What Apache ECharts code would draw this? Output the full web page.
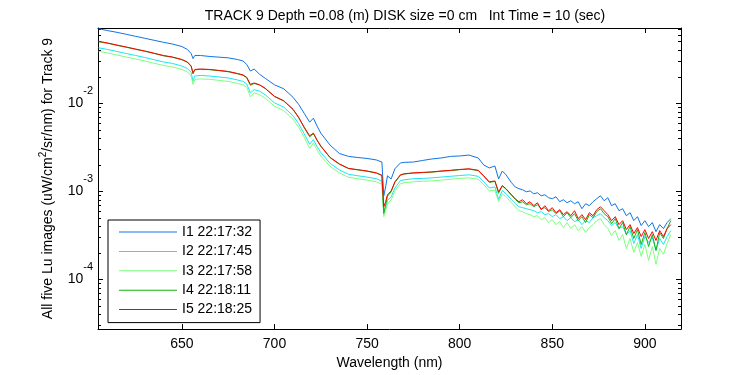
<!DOCTYPE html>
<html>
<head>
<meta charset="utf-8">
<script src="https://cdn.jsdelivr.net/npm/echarts@6/dist/echarts.min.js"></script>
<style>html,body{margin:0;background:#fff}#chart{width:750px;height:375px}</style>
</head>
<body>
<div id="chart"></div>
<script>
// wavelength (nm)
var wavelength = [605,610,615,620,625,630,635,640,645,650,653,655,656,657,660,665,670,675,680,683,
  685,687,689,692,695,700,705,710,713,716,719,721,723,725,730,735,740,745,750,755,
  758,759,760,761,763,765,768,770,775,780,785,790,795,800,805,810,813,816,819,821,
  823,825,828,830,
  832,834,836,838,840,842,844,846,848,850,852,854,856,858,860,862,864,866,868,870,
  872,874,876,878,880,882,884,886,888,890,892,894,896,898,900,902,904,906,908,910,912,914];

var lu_i1 = [7.04e-2,6.68e-2,6.39e-2,6.07e-2,5.76e-2,5.47e-2,5.19e-2,4.93e-2,4.70e-2,4.41e-2,
  4.08e-2,3.67e-2,3.22e-2,3.49e-2,3.49e-2,3.40e-2,3.34e-2,3.28e-2,3.14e-2,3.02e-2,
  2.76e-2,2.32e-2,2.45e-2,2.13e-2,1.92e-2,1.62e-2,1.46e-2,1.17e-2,9.74e-3,7.71e-3,
  6.10e-3,6.77e-3,5.50e-3,4.58e-3,3.35e-3,2.69e-3,2.49e-3,2.42e-3,2.36e-3,2.27e-3,
  2.15e-3,8.89e-4,1.12e-3,1.50e-3,1.38e-3,1.80e-3,2.10e-3,2.13e-3,2.15e-3,2.24e-3,
  2.33e-3,2.39e-3,2.49e-3,2.52e-3,2.58e-3,2.39e-3,1.99e-3,1.84e-3,1.94e-3,1.38e-3,
  1.70e-3,1.54e-3,1.25e-3,1.12e-3,
  1.07e-3,1.04e-3,9.87e-4,1.01e-3,9.37e-4,9.62e-4,8.89e-4,9.13e-4,8.45e-4,8.23e-4,
  8.67e-4,7.61e-4,8.02e-4,7.41e-4,7.81e-4,7.22e-4,7.61e-4,6.34e-4,7.22e-4,6.86e-4,
  7.61e-4,8.23e-4,8.89e-4,7.81e-4,8.45e-4,6.86e-4,7.22e-4,6.02e-4,6.34e-4,5.28e-4,
  5.71e-4,4.64e-4,5.15e-4,4.08e-4,4.64e-4,3.97e-4,4.41e-4,3.48e-4,4.18e-4,3.77e-4,
  4.41e-4,4.89e-4];

var lu_i2 = [4.27e-2,4.08e-2,3.87e-2,3.67e-2,3.49e-2,3.31e-2,3.12e-2,2.95e-2,2.83e-2,2.65e-2,
  2.48e-2,2.24e-2,1.78e-2,2.04e-2,2.07e-2,2.04e-2,1.99e-2,1.94e-2,1.84e-2,1.77e-2,
  1.66e-2,1.31e-2,1.43e-2,1.37e-2,1.25e-2,1.01e-2,9.03e-3,7.22e-3,5.87e-3,4.52e-3,
  3.42e-3,3.87e-3,3.22e-3,2.76e-3,2.08e-3,1.75e-3,1.56e-3,1.50e-3,1.45e-3,1.39e-3,
  1.30e-3,5.80e-4,6.51e-4,7.81e-4,8.64e-4,1.09e-3,1.32e-3,1.35e-3,1.39e-3,1.40e-3,
  1.42e-3,1.45e-3,1.48e-3,1.51e-3,1.54e-3,1.48e-3,1.28e-3,1.09e-3,1.12e-3,8.10e-4,
  1.02e-3,9.39e-4,8.02e-4,7.23e-4,
  6.68e-4,6.51e-4,6.34e-4,6.18e-4,6.02e-4,5.71e-4,5.87e-4,5.43e-4,5.57e-4,5.15e-4,
  5.43e-4,4.89e-4,5.15e-4,4.64e-4,5.02e-4,4.52e-4,4.76e-4,4.18e-4,4.64e-4,4.41e-4,
  5.02e-4,5.28e-4,5.57e-4,5.02e-4,4.64e-4,4.08e-4,4.41e-4,3.77e-4,3.97e-4,3.22e-4,
  3.58e-4,2.55e-4,3.22e-4,2.24e-4,3.06e-4,2.62e-4,2.98e-4,2.13e-4,2.91e-4,2.49e-4,
  3.06e-4,3.58e-4];

var lu_i3 = [3.90e-2,3.72e-2,3.53e-2,3.35e-2,3.18e-2,3.02e-2,2.85e-2,2.69e-2,2.58e-2,2.42e-2,
  2.27e-2,2.04e-2,1.64e-2,1.87e-2,1.89e-2,1.87e-2,1.82e-2,1.77e-2,1.68e-2,1.62e-2,
  1.52e-2,1.18e-2,1.31e-2,1.25e-2,1.14e-2,9.25e-3,8.25e-3,6.59e-3,5.36e-3,4.13e-3,
  3.07e-3,3.53e-3,2.95e-3,2.52e-3,1.92e-3,1.62e-3,1.44e-3,1.39e-3,1.34e-3,1.28e-3,
  1.20e-3,5.15e-4,6.01e-4,7.21e-4,7.98e-4,1.01e-3,1.22e-3,1.25e-3,1.28e-3,1.30e-3,
  1.31e-3,1.34e-3,1.37e-3,1.40e-3,1.42e-3,1.37e-3,1.19e-3,1.01e-3,1.03e-3,7.60e-4,
  9.40e-4,8.67e-4,7.40e-4,6.67e-4,
  6.02e-4,5.87e-4,5.57e-4,5.43e-4,5.15e-4,5.28e-4,4.76e-4,5.02e-4,4.41e-4,4.76e-4,
  4.18e-4,4.52e-4,3.87e-4,4.41e-4,3.77e-4,4.18e-4,3.58e-4,3.97e-4,3.40e-4,3.87e-4,
  4.18e-4,4.64e-4,4.89e-4,4.18e-4,3.77e-4,3.14e-4,3.58e-4,2.76e-4,3.22e-4,2.24e-4,
  2.91e-4,2.02e-4,2.62e-4,1.82e-4,2.49e-4,1.64e-4,2.36e-4,1.48e-4,2.24e-4,1.92e-4,
  2.55e-4,3.22e-4];

var lu_i4 = [5.00e-2,4.80e-2,4.55e-2,4.33e-2,4.10e-2,3.90e-2,3.68e-2,3.46e-2,3.33e-2,3.12e-2,
  2.92e-2,2.62e-2,2.15e-2,2.40e-2,2.43e-2,2.41e-2,2.35e-2,2.28e-2,2.16e-2,2.08e-2,
  1.95e-2,1.60e-2,1.68e-2,1.61e-2,1.47e-2,1.19e-2,1.06e-2,8.48e-3,6.90e-3,5.30e-3,
  4.15e-3,4.52e-3,3.78e-3,3.24e-3,2.41e-3,2.03e-3,1.81e-3,1.75e-3,1.69e-3,1.61e-3,
  1.51e-3,5.60e-4,7.00e-4,8.80e-4,9.90e-4,1.26e-3,1.52e-3,1.57e-3,1.61e-3,1.63e-3,
  1.65e-3,1.69e-3,1.72e-3,1.76e-3,1.79e-3,1.72e-3,1.48e-3,1.26e-3,1.30e-3,9.50e-4,
  1.15e-3,1.06e-3,9.00e-4,8.10e-4,
  7.41e-4,7.61e-4,7.04e-4,7.22e-4,6.68e-4,7.04e-4,6.34e-4,6.51e-4,5.87e-4,6.18e-4,
  5.57e-4,6.02e-4,5.15e-4,5.71e-4,5.02e-4,5.57e-4,4.64e-4,5.15e-4,4.41e-4,5.43e-4,
  5.02e-4,5.87e-4,6.34e-4,5.57e-4,5.15e-4,4.29e-4,4.89e-4,3.77e-4,4.41e-4,3.22e-4,
  3.97e-4,2.91e-4,3.67e-4,2.49e-4,3.40e-4,2.36e-4,3.22e-4,2.13e-4,3.40e-4,2.91e-4,
  3.77e-4,4.64e-4];

var lu_i5 = [5.06e-2,4.83e-2,4.58e-2,4.35e-2,4.13e-2,3.92e-2,3.70e-2,3.49e-2,3.35e-2,3.14e-2,
  2.94e-2,2.65e-2,2.22e-2,2.42e-2,2.45e-2,2.42e-2,2.36e-2,2.30e-2,2.18e-2,2.10e-2,
  1.97e-2,1.64e-2,1.70e-2,1.62e-2,1.48e-2,1.20e-2,1.07e-2,8.55e-3,6.95e-3,5.36e-3,
  4.27e-3,4.58e-3,3.82e-3,3.27e-3,2.43e-3,2.05e-3,1.82e-3,1.76e-3,1.70e-3,1.62e-3,
  1.52e-3,6.68e-4,7.61e-4,9.13e-4,1.01e-3,1.28e-3,1.54e-3,1.58e-3,1.62e-3,1.64e-3,
  1.66e-3,1.70e-3,1.73e-3,1.77e-3,1.80e-3,1.73e-3,1.50e-3,1.28e-3,1.31e-3,9.87e-4,
  1.16e-3,1.07e-3,9.13e-4,8.23e-4,
  7.61e-4,8.02e-4,7.22e-4,7.61e-4,6.86e-4,7.41e-4,6.18e-4,6.86e-4,6.02e-4,6.51e-4,
  5.71e-4,6.18e-4,5.43e-4,5.87e-4,5.28e-4,6.02e-4,4.89e-4,5.43e-4,4.76e-4,5.71e-4,
  5.28e-4,6.18e-4,6.68e-4,6.02e-4,5.43e-4,4.64e-4,5.15e-4,4.18e-4,4.64e-4,3.67e-4,
  4.18e-4,3.31e-4,3.87e-4,3.06e-4,3.67e-4,2.91e-4,3.48e-4,2.76e-4,3.58e-4,3.06e-4,
  3.77e-4,4.18e-4];

var seriesNames = ['I1 22:17:32', 'I2 22:17:45', 'I3 22:17:58', 'I4 22:18:11', 'I5 22:18:25'];
var seriesData = [lu_i1, lu_i2, lu_i3, lu_i4, lu_i5];
var seriesColors = ['#1074e6', '#1ee4f2', '#7dff7d', '#10b410', '#ff0000'];

var xTicks = [650, 700, 750, 800, 850, 900];
var xMin = 604.7, xMax = 919.5;
var yMin = 2.72e-5, yMax = 0.0716;
var minorSteps = [2, 3, 4, 5, 6, 7, 8, 9];
var decades = [-5, -4, -3, -2];

var font = 'Liberation Sans, Arial, Helvetica, sans-serif';
var fs = 14;

// log-axis minor tick positions (2..9 x 10^n), in log10 space
var minorTicks = [];
decades.forEach(function (d) {
  minorSteps.forEach(function (m) {
    var v = Math.log10(m) + d;
    if (v > Math.log10(yMin) && v < Math.log10(yMax)) minorTicks.push(v);
  });
});

var chart = echarts.init(document.getElementById('chart'));

var option = {
  animation: false,
  textStyle: { fontFamily: font },
  title: {
    text: 'TRACK 9 Depth =0.08 (m) DISK size =0 cm   Int Time = 10 (sec)',
    left: 400, top: 4, textAlign: 'center',
    textStyle: { fontSize: fs, fontWeight: 'normal', color: '#000', fontFamily: font }
  },
  grid: { left: 98, right: 69, top: 28, bottom: 44 },
  legend: {
    data: seriesNames,
    orient: 'vertical',
    left: 108, top: 220,
    icon: 'rect',
    itemWidth: 58, itemHeight: 1,
    itemGap: 5.4,
    padding: [5, 8, 6, 11],
    borderColor: '#000', borderWidth: 1,
    backgroundColor: '#fff',
    selectedMode: false,
    textStyle: { fontSize: fs, color: '#000', fontFamily: font }
  },
  xAxis: [
    {
      type: 'value', min: xMin, max: xMax, position: 'bottom',
      axisLine: { show: true, onZero: false, lineStyle: { color: '#000' } },
      axisTick: { inside: true, length: 5, customValues: xTicks, lineStyle: { color: '#000' } },
      axisLabel: { customValues: xTicks, margin: 8, fontSize: fs, color: '#000', fontFamily: font },
      splitLine: { show: false },
      name: 'Wavelength (nm)', nameLocation: 'middle', nameGap: 24,
      nameTextStyle: { fontSize: fs, color: '#000', fontFamily: font }
    },
    {
      type: 'value', min: xMin, max: xMax, position: 'top',
      axisLine: { show: true, onZero: false, lineStyle: { color: '#000' } },
      axisTick: { inside: true, length: 5, customValues: xTicks, lineStyle: { color: '#000' } },
      axisLabel: { show: false },
      splitLine: { show: false }
    }
  ],
  yAxis: [
    {
      type: 'log', min: yMin, max: yMax, position: 'left',
      axisLine: { show: true, onZero: false, lineStyle: { color: '#000' } },
      axisTick: { inside: true, length: 5, lineStyle: { color: '#000' } },
      splitLine: { show: false },
      axisLabel: {
        margin: 5, fontSize: fs, color: '#000', fontFamily: font,
        formatter: function (v) {
          var e = Math.log10(v);
          var r = Math.round(e);
          if (Math.abs(e - r) > 1e-6) return '';
          return '10{sup|' + r + '}';
        },
        rich: { sup: { fontSize: 11, color: '#000', fontFamily: font, padding: [0, 0, 24, 0] } }
      },
      name: 'All five Lu images (uW/cm{s|2}/sr/nm) for Track 9',
      nameLocation: 'middle', nameGap: 40, nameRotate: 90,
      nameTextStyle: {
        fontSize: fs, color: '#000', fontFamily: font,
        rich: { s: { fontSize: 10, color: '#000', fontFamily: font, padding: [0, 0, 10, 0] } }
      }
    },
    {
      type: 'value', min: Math.log10(yMin), max: Math.log10(yMax), position: 'left',
      axisLine: { show: false, onZero: false },
      axisTick: { inside: true, length: 3, customValues: minorTicks, lineStyle: { color: '#000' } },
      axisLabel: { show: false },
      splitLine: { show: false }
    },
    {
      type: 'log', min: yMin, max: yMax, position: 'right',
      axisLine: { show: true, onZero: false, lineStyle: { color: '#000' } },
      axisTick: { inside: true, length: 5, lineStyle: { color: '#000' } },
      axisLabel: { show: false },
      splitLine: { show: false }
    },
    {
      type: 'value', min: Math.log10(yMin), max: Math.log10(yMax), position: 'right',
      axisLine: { show: false, onZero: false },
      axisTick: { inside: true, length: 3, customValues: minorTicks, lineStyle: { color: '#000' } },
      axisLabel: { show: false },
      splitLine: { show: false }
    }
  ],
  series: seriesNames.map(function (name, k) {
    return {
      name: name,
      type: 'line',
      xAxisIndex: 0, yAxisIndex: 0,
      showSymbol: false, symbol: 'none',
      color: seriesColors[k],
      lineStyle: { width: 1, color: seriesColors[k] },
      data: wavelength.map(function (w, i) { return [w, seriesData[k][i]]; })
    };
  })
};

chart.setOption(option);
</script>
</body>
</html>
